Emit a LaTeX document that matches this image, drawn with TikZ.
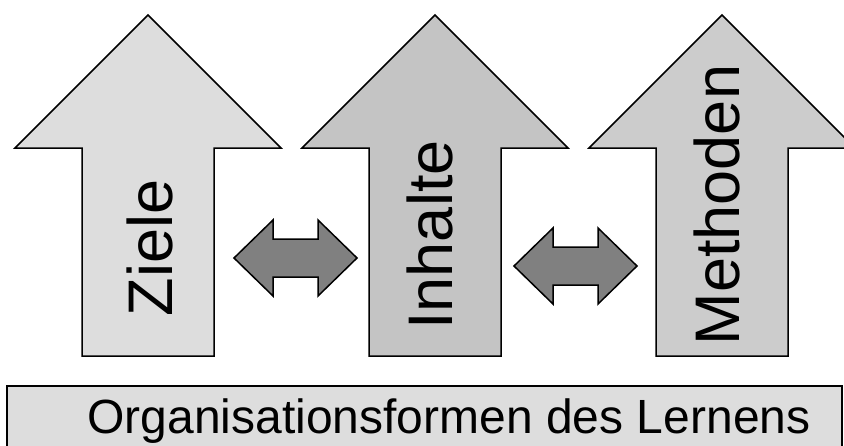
\documentclass[tikz,border=0pt]{standalone}
\usepackage{fontspec}
\setsansfont{Liberation Sans}
\usepackage{tikz}
\usetikzlibrary{calc, positioning}

\definecolor{zielgray}{HTML}{DDDDDD}
\definecolor{inhaltgray}{HTML}{C4C4C4}
\definecolor{methodgray}{HTML}{CCCCCC}
\definecolor{linkgray}{HTML}{808080}

\begin{document}
\begin{tikzpicture}[
      x=1pt, y=-1pt,
      every node/.style={font=\sffamily},
      bigarrow/.style={draw=black, line width=1.5pt, line join=miter},
      linkarrow/.style={draw=black, line width=1.5pt, fill=linkgray, line join=miter},
      biglabel/.style={rotate=90, inner sep=0pt, font=\sffamily\fontsize{63}{63}\selectfont},
      basebox/.style={draw=black, line width=1.5pt, fill=zielgray}
    ]
    \clip (0,0) rectangle (844,445);

    % upward block arrows
    \foreach \cx/\col in {148/zielgray, 435/inhaltgray, 722/methodgray} {
      \draw[bigarrow, fill=\col] (\cx,15) -- (\cx+133,148) -- (\cx+66,148) -- (\cx+66,356)
        -- (\cx-66,356) -- (\cx-66,148) -- (\cx-133,148) -- cycle;
    }

    % labels on the arrows
    \node[biglabel] (ziele) at (150,248) {Ziele};
    \node[biglabel] (inhalte) at (430,235) {Inhalte};
    \node[biglabel] (methoden) at (717,205) {Methoden};

    % double arrows between them
    \foreach \lx/\cy in {234/258, 514/266} {
      \draw[linkarrow] (\lx,\cy) -- (\lx+39,\cy-38) -- (\lx+39,\cy-19) -- (\lx+84,\cy-19)
        -- (\lx+84,\cy-38) -- (\lx+123,\cy) -- (\lx+84,\cy+38) -- (\lx+84,\cy+19)
        -- (\lx+39,\cy+19) -- (\lx+39,\cy+38) -- cycle;
    }

    % base box
    \draw[basebox] (7,386) rectangle (842,460);
    \node[anchor=base, inner sep=0pt, font=\sffamily\fontsize{48}{48}\selectfont] (orga) at (449,433)
      {Organisationsformen des Lernens};
\end{tikzpicture}
\end{document}
